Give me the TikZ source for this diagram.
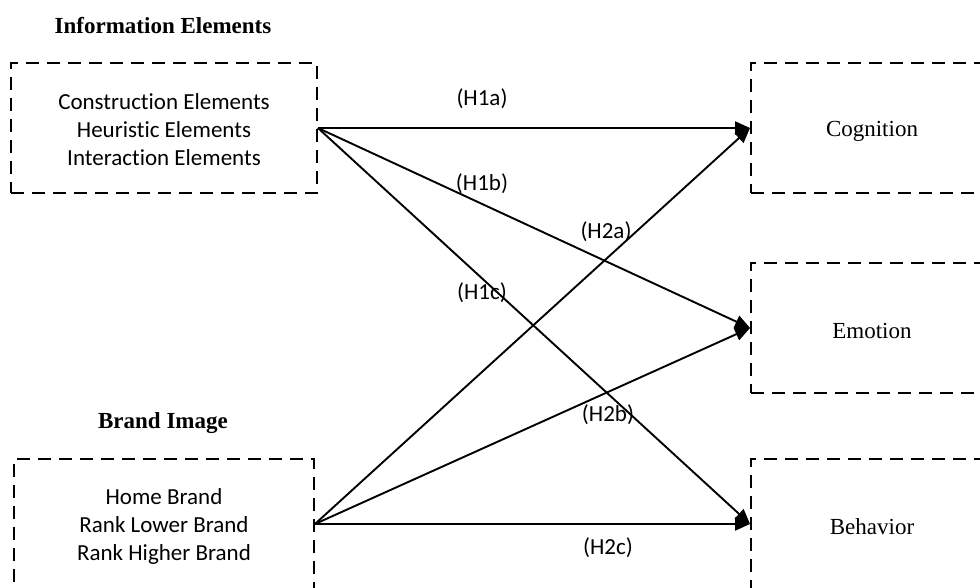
\documentclass[tikz,border=0pt]{standalone}
\usepackage{fontspec}
\setmainfont{Liberation Serif}
\newfontfamily\calib[Ligatures={NoCommon}]{Carlito}
\usetikzlibrary{arrows.meta}
\tikzset{
  box/.style={draw, line width=1.9pt, dash pattern=on 13pt off 8pt, inner sep=0pt},
  conn/.style={line width=1.9pt, -{Triangle[length=15pt,width=13pt]}},
  sanstxt/.style={font=\calib\fontsize{23}{28}\selectfont, align=center},
  title/.style={font=\bfseries\fontsize{23}{28}\selectfont},
  serif/.style={font=\fontsize{23}{28}\selectfont},
  lab/.style={font=\calib\fontsize{23}{28}\selectfont, inner sep=0pt}
}
\begin{document}
\begin{tikzpicture}[x=1pt,y=-1pt]
\clip (0,0) rectangle (980,588);
\fill[white] (0,0) rectangle (980,588);
\node[title] (t1) at (163,26) {Information Elements};
\node[title] (t2) at (163,423) {Brand Image};
\node[box, minimum width=306pt, minimum height=130pt] (ie) at (164,128) {};
\node[sanstxt] (ietxt) at (164,130) {Construction Elements\\Heuristic Elements\\Interaction Elements};
\node[box, minimum width=300pt, minimum height=130pt] (bi) at (164,524) {};
\node[sanstxt] (bitxt) at (164,526) {Home Brand\\Rank Lower Brand\\Rank Higher Brand};
\node[box, minimum width=242pt, minimum height=130pt] (cog) at (872,128) {};
\node[serif] (cogt) at (872,131) {Cognition};
\node[box, minimum width=242pt, minimum height=130pt] (emo) at (872,328) {};
\node[serif] (emot) at (872,331) {Emotion};
\node[box, minimum width=242pt, minimum height=130pt] (beh) at (872,524) {};
\node[serif] (beht) at (872,527) {Behavior};
\draw[conn] (ie.east) -- (cog.west);
\draw[conn] (ie.east) -- (emo.west);
\draw[conn] (ie.east) -- (beh.west);
\draw[conn] (bi.east) -- (cog.west);
\draw[conn] (bi.east) -- (emo.west);
\draw[conn] (bi.east) -- (beh.west);
\node[lab] (h1a) at (482,99) {(H1a)};
\node[lab] (h1b) at (482,184) {(H1b)};
\node[lab] (h2a) at (606,232) {(H2a)};
\node[lab] (h1c) at (482,293) {(H1c)};
\node[lab] (h2b) at (608,415) {(H2b)};
\node[lab] (h2c) at (608,548) {(H2c)};
\end{tikzpicture}
\end{document}
